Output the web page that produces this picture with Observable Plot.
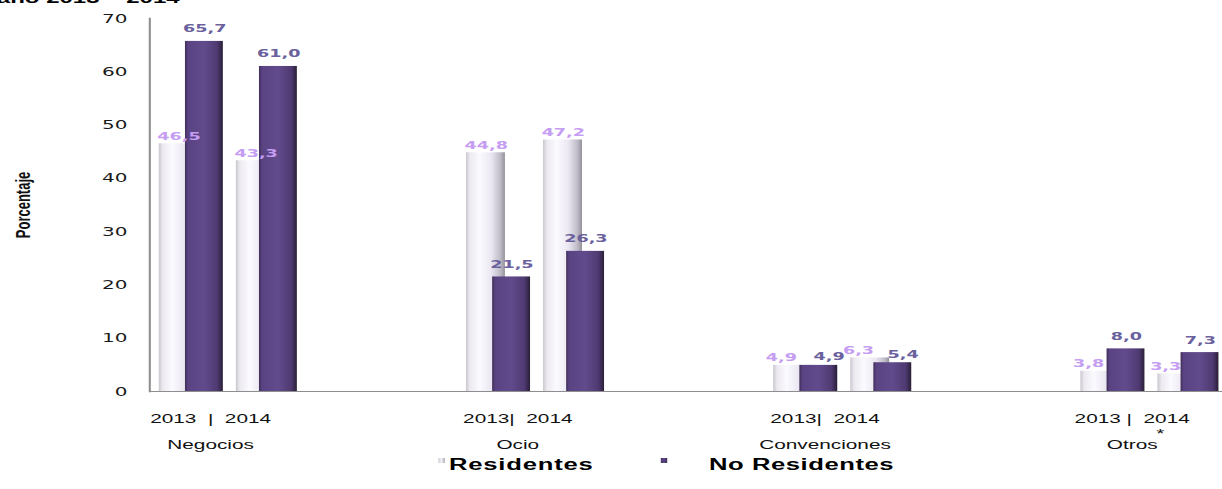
<!DOCTYPE html>
<html>
<head>
<meta charset="utf-8">
<script src="https://cdn.jsdelivr.net/npm/d3@7"></script>
<script src="https://cdn.jsdelivr.net/npm/@observablehq/plot@0.6"></script>
<style>
  html, body { margin: 0; padding: 0; background: #fff; width: 1222px; height: 489px; overflow: hidden; }
  #wrap { position: absolute; left: 0; top: 0; width: 763.75px; transform: scaleX(1.6); transform-origin: 0 0; }
  #title { height: 7px; overflow: hidden; position: relative; }
  #title span { position: absolute; left: -2px; top: -10px; font: bold 15px/15px "Liberation Sans", Arial, sans-serif; white-space: nowrap; color: #000; }
  #legend { position: relative; height: 36px; font: bold 16px/16px "Liberation Sans", Arial, sans-serif; color: #000; }
  #legend .sw { position: absolute; width: 4px; height: 5px; top: 5px; }
  #legend .lb { position: absolute; top: 3.5px; white-space: nowrap; }
</style>
</head>
<body>
<div id="wrap">
  <div id="title"><span>año 2013 – 2014</span></div>
  <div id="chart"></div>
  <div id="legend"></div>
</div>
<script>
// ---- data ----
const categories = ["Negocios", "Ocio", "Convenciones", "Otros"];
const years = ["2013", "2014"];
const seriesNames = ["Residentes", "No Residentes"];
const residentes2013 = [46.5, 44.8, 4.9, 3.8];
const residentes2014 = [43.3, 47.2, 6.3, 3.3];
const noResidentes2013 = [65.7, 21.5, 4.9, 8.0];
const noResidentes2014 = [61.0, 26.3, 5.4, 7.3];
const yearLabels = ["2013  |  2014", "2013|  2014", "2013|  2014", "2013 |  2014"];
const yTicks = [0, 10, 20, 30, 40, 50, 60, 70];
const yLabel = "Porcentaje";
const noteMark = "*";

// ---- table ----
const rows = [];
categories.forEach((cat, i) => {
  rows.push({cat, year: years[0], serie: seriesNames[0], value: residentes2013[i]});
  rows.push({cat, year: years[0], serie: seriesNames[1], value: noResidentes2013[i]});
  rows.push({cat, year: years[1], serie: seriesNames[0], value: residentes2014[i]});
  rows.push({cat, year: years[1], serie: seriesNames[1], value: noResidentes2014[i]});
});

// ---- layout (unscaled coordinates; the whole figure is stretched 1.6x horizontally) ----
const k = 1.6;
const W = 1222 / k;
const xRange = [72.2 / k, 1305.5 / k];
const bw = (xRange[1] - xRange[0]) / categories.length;
// sub-bar slots inside each category band: [start fraction, width fraction]
const slots = [
  {year: "2013", serie: "Residentes", f: 0.271, w: 0.130},
  {year: "2013", serie: "No Residentes", f: 0.356, w: 0.1265},
  {year: "2014", serie: "Residentes", f: 0.521, w: 0.130},
  {year: "2014", serie: "No Residentes", f: 0.596, w: 0.1265}
];
const fillOf = s => s === "Residentes" ? "url(#gRes)" : "url(#gNoRes)";
const labelColor = s => s === "Residentes" ? "#c59df2" : "#6a619d";
const fmt = v => d3.format(".1f")(v).replace(".", ",");

const marks = [];
slots.forEach(s => {
  const data = rows.filter(d => d.year === s.year && d.serie === s.serie);
  marks.push(Plot.rectY(data, {
    x: "cat", y: "value", fill: fillOf(s.serie),
    insetLeft: s.f * bw, insetRight: bw - (s.f + s.w) * bw
  }));
});
// value labels: short bars get their labels nudged apart so they do not collide
slots.forEach(s => {
  const data = rows.filter(d => d.year === s.year && d.serie === s.serie);
  const res = s.serie === "Residentes";
  const base = (s.f + s.w / 2 - 0.5) * bw;
  [true, false].forEach(small => {
    const sub = data.filter(d => res ? (d.value < 10) === small : (d.value < 6) === small);
    if (!sub.length) return;
    marks.push(Plot.text(sub, {
      x: "cat", y: "value", text: d => fmt(d.value),
      dx: base + (small ? (res ? -12 / k : 10 / k) : 0),
      dy: res ? -4 : (small ? -5 : -9),
      lineAnchor: "bottom", fill: labelColor(s.serie),
      fontWeight: "bold", fontSize: 11, fontFamily: "DejaVu Sans, Verdana, sans-serif"
    }));
  });
});

const chart = Plot.plot({
  width: W,
  height: 446,
  marginLeft: 149 / k,
  marginRight: 0,
  marginTop: 11,
  marginBottom: 62,
  style: {background: "transparent", overflow: "visible", fontFamily: "Liberation Sans, Arial, sans-serif"},
  x: {type: "band", domain: categories, range: xRange, padding: 0, axis: null},
  y: {domain: [0, 70], axis: null},
  marks: [
    ...marks,
    Plot.ruleY([0], {stroke: "#8e8e8e", strokeWidth: 1.2}),
    Plot.frame({anchor: "left", stroke: "#8e8e8e", strokeWidth: 1.3}),
    Plot.axisY(yTicks, {tickSize: 0, tickPadding: 14, fontSize: 12.5, fontFamily: "DejaVu Sans, Verdana, sans-serif", fill: "#1a1a1a", label: null}),
    Plot.text(categories, {x: d => d, frameAnchor: "bottom", dy: 31, dx: -19 / k, lineAnchor: "bottom",
      text: d => yearLabels[categories.indexOf(d)].replace(/ /g, "\u00a0"), fontSize: 13, fill: "#111"}),
    Plot.text(categories, {x: d => d, frameAnchor: "bottom", dy: 57, dx: -19 / k, lineAnchor: "bottom",
      text: d => d, fontSize: 13, fill: "#111"}),
    Plot.text([categories[3]], {x: d => d, frameAnchor: "bottom", dy: 46, dx: 9 / k, lineAnchor: "bottom",
      text: () => noteMark, fontSize: 13, fill: "#111"}),
    Plot.text([yLabel], {frameAnchor: "left", dx: -79, rotate: -90, text: d => d, lineAnchor: "middle", textAnchor: "middle",
      fontSize: 13, fontWeight: "bold", fontFamily: "Liberation Sans, Arial, sans-serif", fill: "#111"})
  ]
});

const svgNS = "http://www.w3.org/2000/svg";
const defs = document.createElementNS(svgNS, "defs");
defs.innerHTML = `
  <linearGradient id="gRes" x1="0" x2="1" y1="0" y2="0">
    <stop offset="0" stop-color="#c9c6ce"/>
    <stop offset="0.1" stop-color="#eceaf0"/>
    <stop offset="0.35" stop-color="#fbfaff"/>
    <stop offset="0.65" stop-color="#ebe7f2"/>
    <stop offset="0.88" stop-color="#c0bcc7"/>
    <stop offset="1" stop-color="#95919b"/>
  </linearGradient>
  <linearGradient id="gNoRes" x1="0" x2="1" y1="0" y2="0">
    <stop offset="0" stop-color="#3f2e57"/>
    <stop offset="0.08" stop-color="#5a4383"/>
    <stop offset="0.5" stop-color="#624b8c"/>
    <stop offset="0.85" stop-color="#4f3a72"/>
    <stop offset="1" stop-color="#2a1f37"/>
  </linearGradient>`;
chart.insertBefore(defs, chart.firstChild);
document.getElementById("chart").appendChild(chart);

// legend
const legend = document.getElementById("legend");
const legendItems = [
  {name: seriesNames[0], sw: 438, lb: 449, bg: "linear-gradient(90deg,#cfccd4,#f4f2f8,#a8a4ae)", ls: "0.5px"},
  {name: seriesNames[1], sw: 660, lb: 709, bg: "linear-gradient(90deg,#4a3768,#5e4788,#3a2b52)", ls: "0.35px"}
];
legendItems.forEach(it => {
  const sw = document.createElement("div");
  sw.className = "sw"; sw.style.left = (it.sw / k) + "px"; sw.style.background = it.bg;
  const lb = document.createElement("div");
  lb.className = "lb"; lb.style.left = (it.lb / k) + "px"; lb.style.letterSpacing = it.ls;
  lb.textContent = it.name;
  legend.appendChild(sw); legend.appendChild(lb);
});
</script>
</body>
</html>
